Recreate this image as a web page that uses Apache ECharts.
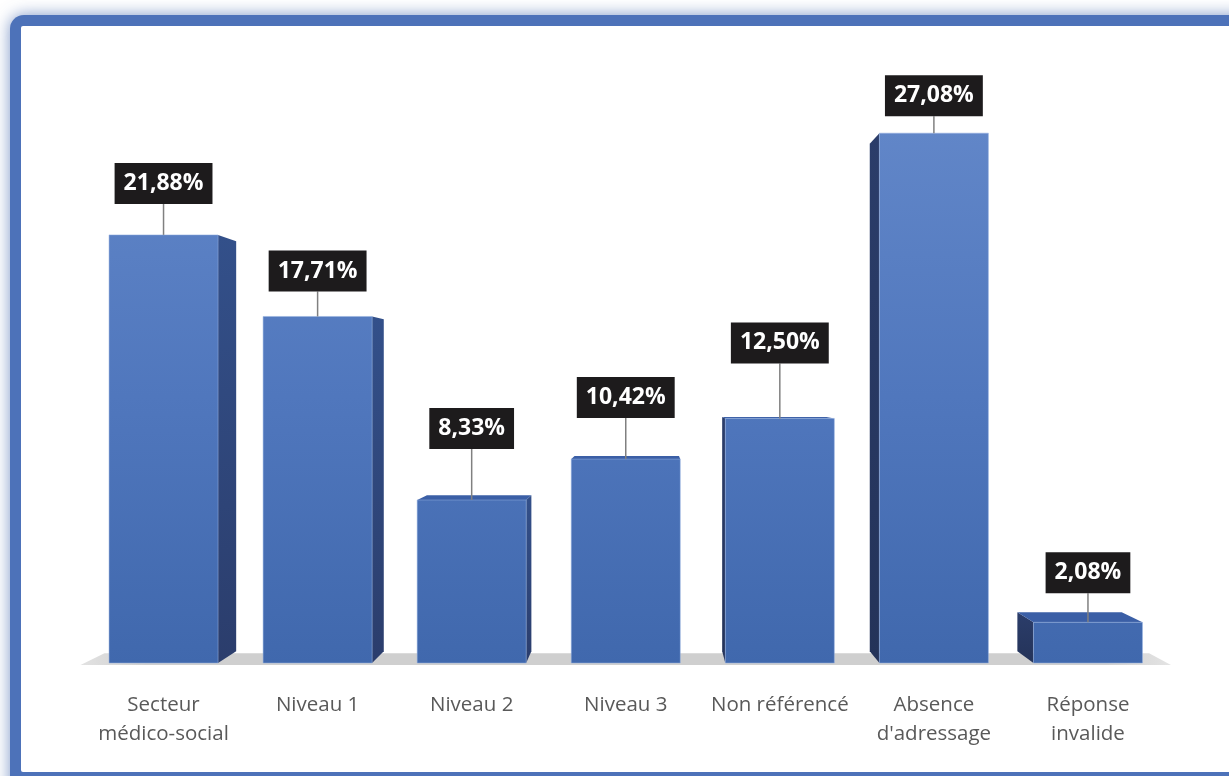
<!DOCTYPE html>
<html>
<head>
<meta charset="utf-8">
<script src="https://cdn.jsdelivr.net/npm/echarts@6/dist/echarts.min.js"></script>
<style>
  html, body { margin: 0; padding: 0; background: #ffffff; }
  #chart { width: 1229px; height: 776px; }
</style>
</head>
<body>
<div id="chart"></div>
<script>
// ---- data ----
const categories = ['Secteur\nmédico-social', 'Niveau 1', 'Niveau 2', 'Niveau 3', 'Non référencé', 'Absence\nd\'adressage', 'Réponse\ninvalide'];
const values = [21.88, 17.71, 8.33, 10.42, 12.50, 27.08, 2.08];
const yTicks = [0, 30];

// ---- styling (layout only) ----
const labelLift = [31, 25, 51, 41, 55, 17, 29];   // px between bar top and label box
const VX = 650, VY = 385, DEPTH = 0.042;           // perspective of the 3D bars
const BAR_W = 109;

function fmt(v) { return v.toFixed(2).replace('.', ',') + '%'; }
function back(p) { const s = 1 - DEPTH; return [VX + (p[0] - VX) * s, VY + (p[1] - VY) * s]; }

const frontGrad = new echarts.graphic.LinearGradient(0, 130, 0, 663, [
  { offset: 0, color: '#6186c8' },
  { offset: 0.5, color: '#5077bd' },
  { offset: 1, color: '#4068ad' }
], true);

function renderBar(params, api) {
  const i = api.value(0);
  const top = api.coord([i, api.value(1)]);
  const base = api.coord([i, 0]);
  const cx = top[0];
  const x0 = cx - BAR_W / 2, x1 = cx + BAR_W / 2;
  const yT = top[1], yB = base[1];
  const children = [];
  // side faces
  if (x1 < VX) {
    children.push({ type: 'polygon', shape: { points: [[x1, yT], back([x1, yT]), back([x1, yB]), [x1, yB]] },
      style: { fill: new echarts.graphic.LinearGradient(0, 0, 0, 1, [{ offset: 0, color: '#33508a' }, { offset: 1, color: '#2b3d6c' }]) } });
  }
  if (x0 > VX) {
    children.push({ type: 'polygon', shape: { points: [[x0, yT], back([x0, yT]), back([x0, yB]), [x0, yB]] },
      style: { fill: new echarts.graphic.LinearGradient(0, 0, 0, 1, [{ offset: 0, color: '#2b3d6a' }, { offset: 1, color: '#243359' }]) } });
  }
  // top face
  if (yT > VY) {
    children.push({ type: 'polygon', shape: { points: [[x0, yT], [x1, yT], back([x1, yT]), back([x0, yT])] },
      style: { fill: '#3b5fa6' } });
  }
  // front face
  children.push({ type: 'rect', shape: { x: x0, y: yT, width: BAR_W, height: yB - yT },
    style: { fill: frontGrad, stroke: 'rgba(150,178,225,0.5)', lineWidth: 1 } });
  // leader line and label
  const lift = labelLift[params.dataIndex];
  children.push({ type: 'line', shape: { x1: cx, y1: yT, x2: cx, y2: yT - lift },
    style: { stroke: '#808080', lineWidth: 1.5 } });
  children.push({ type: 'text', x: cx, y: yT - lift,
    style: { text: fmt(api.value(1)), fill: '#ffffff', font: 'bold 23px "Open Sans"', lineHeight: 29,
      backgroundColor: '#1d1b1c', padding: [6, 9, 6, 9], align: 'center', verticalAlign: 'bottom' } });
  return { type: 'group', children };
}

function renderFloor(params, api) {
  const left = api.coord([0, 0]);
  const right = api.coord([categories.length - 1, 0]);
  const band = api.size([1, 0])[0];
  const yF = left[1] + 2;
  const xL = left[0] - band / 2 - 6, xR = right[0] + band / 2 + 6;
  return {
    type: 'polygon',
    shape: { points: [[xL, yF], [xR, yF], back([xR, yF]), back([xL, yF])] },
    style: { fill: new echarts.graphic.LinearGradient(0, 0, 1, 0, [
      { offset: 0, color: '#e2e2e2' }, { offset: 0.06, color: '#cfcfcf' },
      { offset: 0.94, color: '#cfcfcf' }, { offset: 1, color: '#e4e4e4' }]) }
  };
}

const chart = echarts.init(document.getElementById('chart'), null, { renderer: 'canvas' });
chart.setOption({
  backgroundColor: '#ffffff',
  animation: false,
  graphic: { elements: [
    { type: 'rect', z: -10, shape: { x: 10, y: 15, width: 1320, height: 800, r: 14 },
      style: { fill: '#4d72b9', shadowBlur: 16, shadowColor: 'rgba(70,105,175,0.7)' } },
    { type: 'rect', z: -9, shape: { x: 21, y: 26, width: 1300, height: 746, r: 2 },
      style: { fill: '#ffffff' } }
  ] },
  grid: { left: 86.5, right: 64, top: 76, bottom: 113 },
  xAxis: {
    type: 'category', data: categories,
    axisLine: { show: false }, axisTick: { show: false },
    axisLabel: { interval: 0, color: '#595959', fontFamily: 'Open Sans', fontSize: 20.5, lineHeight: 29, margin: 28 }
  },
  yAxis: {
    type: 'value', min: yTicks[0], max: yTicks[1], show: false, splitLine: { show: false }
  },
  series: [
    { type: 'custom', z: 1, renderItem: renderFloor, data: [[0, 0]], silent: true },
    { type: 'custom', z: 2, renderItem: renderBar, data: values.map((v, i) => [i, v]),
      encode: { x: 0, y: 1 } }
  ]
});
</script>
</body>
</html>
